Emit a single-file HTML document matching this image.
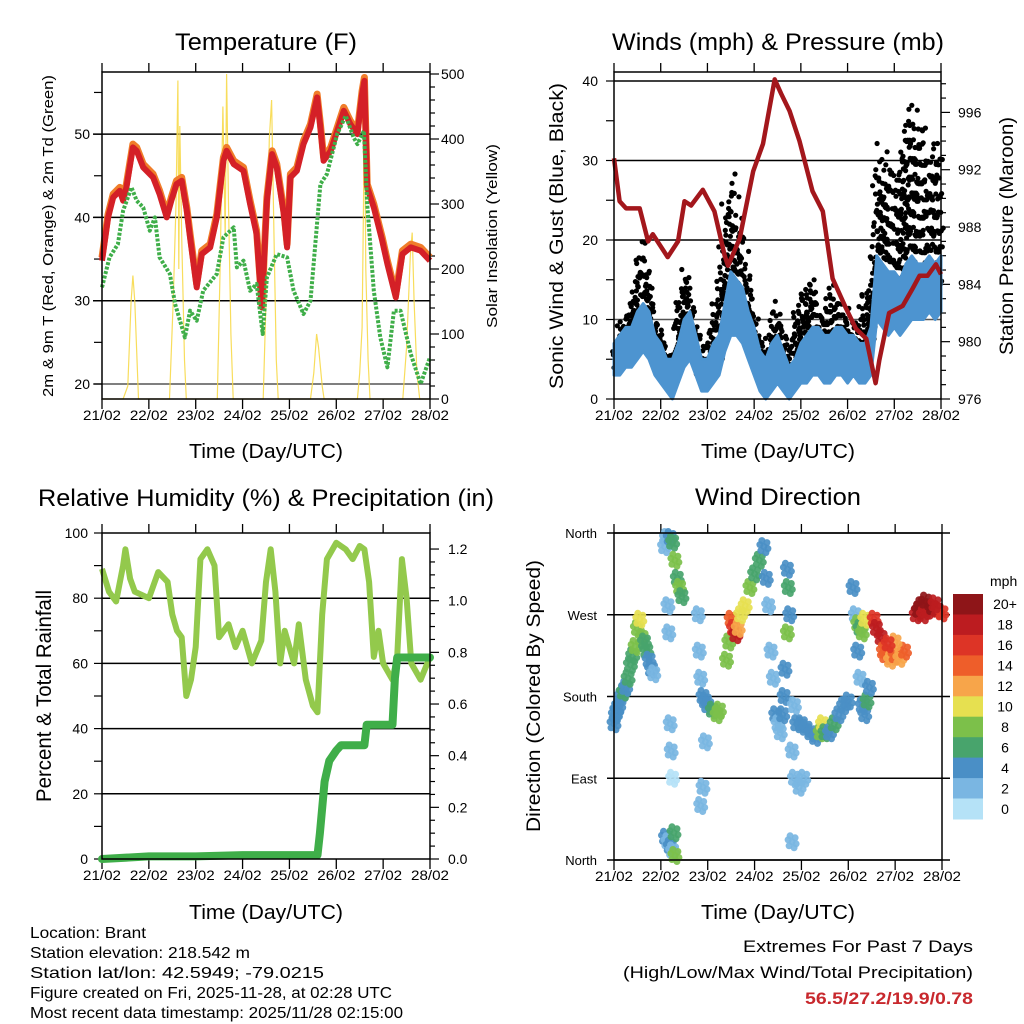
<!DOCTYPE html>
<html><head><meta charset="utf-8"><style>
html,body{margin:0;padding:0;background:#fff;}
svg{display:block;font-family:"Liberation Sans",Arial,sans-serif;}
</style></head><body>
<svg id="fig" width="1024" height="1024" viewBox="0 0 1024 1024" xmlns="http://www.w3.org/2000/svg">
<rect width="1024" height="1024" fill="#fff"/>
<g id="p1"></g>
<g id="p2"></g>
<g id="p3"></g>
<g id="p4"></g>
<g id="txt">
<text x="266" y="50" font-size="24" text-anchor="middle" textLength="182" lengthAdjust="spacingAndGlyphs">Temperature (F)</text>
<text x="778" y="50" font-size="24" text-anchor="middle" textLength="332" lengthAdjust="spacingAndGlyphs">Winds (mph) &amp; Pressure (mb)</text>
<text x="266" y="506" font-size="24" text-anchor="middle" textLength="456" lengthAdjust="spacingAndGlyphs">Relative Humidity (%) &amp; Precipitation (in)</text>
<text x="778" y="505" font-size="24" text-anchor="middle" textLength="166" lengthAdjust="spacingAndGlyphs">Wind Direction</text>
<text x="266" y="458" font-size="20" text-anchor="middle" textLength="154" lengthAdjust="spacingAndGlyphs">Time (Day/UTC)</text>
<text x="778" y="458" font-size="20" text-anchor="middle" textLength="154" lengthAdjust="spacingAndGlyphs">Time (Day/UTC)</text>
<text x="266" y="919" font-size="20" text-anchor="middle" textLength="154" lengthAdjust="spacingAndGlyphs">Time (Day/UTC)</text>
<text x="778" y="919" font-size="20" text-anchor="middle" textLength="154" lengthAdjust="spacingAndGlyphs">Time (Day/UTC)</text>
<text transform="translate(53,236) rotate(-90)" font-size="15" text-anchor="middle" textLength="322" lengthAdjust="spacingAndGlyphs">2m &amp; 9m T (Red, Orange) &amp; 2m Td (Green)</text>
<text transform="translate(497,236) rotate(-90)" font-size="15" text-anchor="middle" textLength="184" lengthAdjust="spacingAndGlyphs">Solar Insolation (Yellow)</text>
<text transform="translate(563,236) rotate(-90)" font-size="19" text-anchor="middle" textLength="306" lengthAdjust="spacingAndGlyphs">Sonic Wind &amp; Gust (Blue, Black)</text>
<text transform="translate(1013,236) rotate(-90)" font-size="19" text-anchor="middle" textLength="238" lengthAdjust="spacingAndGlyphs">Station Pressure (Maroon)</text>
<text transform="translate(51,696) rotate(-90)" font-size="21" text-anchor="middle" textLength="212" lengthAdjust="spacingAndGlyphs">Percent &amp; Total Rainfall</text>
<text transform="translate(540,696) rotate(-90)" font-size="19" text-anchor="middle" textLength="272" lengthAdjust="spacingAndGlyphs">Direction (Colored By Speed)</text>
<g font-size="16">
<text x="30" y="938" textLength="116" lengthAdjust="spacingAndGlyphs">Location: Brant</text>
<text x="30" y="958" textLength="220" lengthAdjust="spacingAndGlyphs">Station elevation: 218.542 m</text>
<text x="30" y="978" textLength="294" lengthAdjust="spacingAndGlyphs">Station lat/lon: 42.5949; -79.0215</text>
<text x="30" y="998" textLength="362" lengthAdjust="spacingAndGlyphs">Figure created on Fri, 2025-11-28, at 02:28 UTC</text>
<text x="30" y="1018" textLength="373" lengthAdjust="spacingAndGlyphs">Most recent data timestamp: 2025/11/28 02:15:00</text>
</g>
<text x="973" y="952" font-size="17" text-anchor="end" textLength="230" lengthAdjust="spacingAndGlyphs">Extremes For Past 7 Days</text>
<text x="973" y="978" font-size="17" text-anchor="end" textLength="350" lengthAdjust="spacingAndGlyphs">(High/Low/Max Wind/Total Precipitation)</text>
<text x="973" y="1004" font-size="17" font-weight="bold" fill="#c8282d" text-anchor="end" textLength="168" lengthAdjust="spacingAndGlyphs">56.5/27.2/19.9/0.78</text>
</g>
</svg>
<script>
// ===== data =====
const dayLabels=["21/02","22/02","23/02","24/02","25/02","26/02","27/02","28/02"];
const tempT=[0,0.13,0.24,0.38,0.45,0.52,0.66,0.74,0.88,1.09,1.23,1.38,1.48,1.59,1.70,1.81,1.88,2.02,2.13,2.31,2.45,2.59,2.66,2.81,3.02,3.16,3.30,3.41,3.52,3.63,3.73,3.88,3.95,4.02,4.16,4.30,4.45,4.59,4.66,4.73,4.88,5.16,5.30,5.45,5.55,5.60,5.66,5.80,5.98,6.09,6.27,6.41,6.59,6.80,7.0];
const tempV=[34.8,40,42.4,43.2,42,43.6,48.4,48,46,44.8,42.8,40,42,44,44.4,40.8,37.6,31.6,35.6,36.4,40,46.8,48,46.4,45.6,41.6,38,29.2,42,47.6,46,40.4,36.4,44.8,45.6,48.8,50.8,54.4,50.8,46.8,48,52.8,51.2,50,54.8,56.4,43.6,41.2,37.2,34.4,30.4,35.6,36.4,36,34.8];
const dewT=[0,0.16,0.34,0.45,0.63,0.74,0.88,1.02,1.13,1.23,1.45,1.56,1.77,1.88,2.02,2.16,2.45,2.59,2.81,2.88,3.02,3.16,3.30,3.43,3.52,3.73,3.95,4.09,4.30,4.45,4.66,4.80,5.02,5.20,5.37,5.45,5.59,5.66,5.80,5.94,6.09,6.23,6.37,6.59,6.80,7.0];
const dewV=[31.6,35.2,36.8,40.8,43.6,42,41.2,38.4,40,35.2,33.2,29.6,25.6,28.8,27.6,31.2,33.2,37.6,38.8,34,34.8,31.2,32,26,32.8,35.6,35.2,31.2,28.4,30,44,45.2,50,52.2,49.6,48.8,50.4,41.6,31.2,25.6,22,28.8,28.8,23.6,20,23.2];
const solarT=[0,0.45,0.55,0.62,0.66,0.70,0.78,1.44,1.52,1.58,1.62,1.64,1.66,1.70,1.76,1.80,2.46,2.52,2.58,2.63,2.66,2.70,2.75,2.80,3.44,3.50,3.57,3.62,3.67,3.72,3.76,4.45,4.52,4.58,4.62,4.70,4.74,5.45,5.50,5.55,5.58,5.60,5.63,5.68,5.72,6.42,6.50,6.58,6.62,6.66,6.72,6.78,7.0];
const solarV=[0,0,20,150,190,150,0,0,150,300,490,200,420,250,60,0,0,200,450,250,500,300,100,0,0,150,400,460,250,60,0,0,40,100,80,20,0,0,40,110,300,470,200,60,0,0,80,220,256,150,40,0,0];
const presT=[0,0.12,0.26,0.55,0.73,0.83,1.15,1.37,1.51,1.65,1.90,2.15,2.37,2.44,2.69,2.98,3.19,3.44,3.58,3.76,3.97,4.25,4.47,4.68,4.97,5.18,5.40,5.60,5.68,5.89,6.18,6.39,6.54,6.71,6.89,7.0];
const presV=[992.8,989.8,989.3,989.3,987,987.5,985.9,987,989.8,989.5,990.6,989.1,986,985.3,987.2,991.9,993.8,998.3,997.3,996.1,994,990.5,989.1,984.4,982.3,980.9,980.2,977.1,978.7,982,982.5,983.7,984.6,984.6,985.4,984.7];
const windLo=[3,3,4,4,5,6,5,3,2,1,0,2,4,5,3,1,1,2,3,6,8,8,7,5,3,1,0,1,2,1,0,1,2,2,3,3,2,2,3,3,2,3,2,2,3,10,9,8,9,8,9,10,10,10,11,10,11];
const windHi=[7,8,9,9,11,12,11,8,7,5,5,7,10,11,8,5,5,7,8,12,16,15,14,11,9,6,5,7,8,6,4,5,7,8,9,9,8,8,9,9,8,8,7,7,9,18,17,16,16,15,17,18,17,17,18,17,18];
const gustHi=[6,10,12,13,17,22,18,12,9,7,6,12,17,16,10,6,8,11,15,25,29,25,22,16,12,8,7,10,13,9,6,11,14,15,16,13,11,15,14,12,11,10,12,14,15,33,33,30,28,32,37,38,36,35,34,32,34];
const rhT=[0,0.15,0.3,0.45,0.5,0.6,0.7,1.0,1.2,1.4,1.5,1.6,1.7,1.8,1.9,2.0,2.1,2.25,2.4,2.5,2.7,2.85,3.0,3.2,3.4,3.5,3.6,3.7,3.8,3.9,4.1,4.2,4.35,4.5,4.6,4.7,4.8,5.0,5.2,5.35,5.5,5.6,5.7,5.8,5.9,6.0,6.2,6.3,6.4,6.5,6.6,6.8,7.0];
const rhV=[89,82,79,90,95,86,82,80,88,85,75,70,68,50,55,65,92,95,90,68,72,65,70,60,67,85,95,82,60,70,60,72,55,47,45,75,92,97,95,92,96,95,85,62,70,60,55,62,92,80,60,55,62];
const prT=[0,1,2,3,4,4.6,4.65,4.75,4.85,5.0,5.1,5.6,5.65,6.2,6.25,6.3,7];
const prV=[0,0.01,0.01,0.015,0.015,0.015,0.1,0.3,0.38,0.42,0.44,0.44,0.52,0.52,0.7,0.78,0.78];
const dirT=[0,0.03,0.06,0.1,0.15,0.2,0.25,0.3,0.35,0.4,0.45,0.5,0.55,0.6,0.65,0.7,0.75,0.8,0.85,1.08,1.12,1.2,1.25,1.3,1.35,1.4,1.45,1.15,1.17,1.2,1.22,1.25,1.1,1.15,1.2,1.25,1.3,1.28,1.8,1.82,1.85,1.9,1.95,2.0,2.1,2.2,2.25,1.95,1.9,1.85,2.4,2.45,2.5,2.55,2.6,2.65,2.7,2.8,2.9,3.0,3.1,3.2,3.25,3.3,3.35,3.4,3.45,3.5,3.55,3.7,3.72,3.75,3.7,3.65,3.63,3.6,3.8,3.85,3.9,4.0,4.1,4.2,4.3,4.4,4.45,4.5,4.6,4.7,4.8,4.9,5.0,3.85,3.95,4.05,3.8,5.1,5.15,5.2,5.25,5.3,5.35,5.4,5.45,5.2,5.25,5.3,5.35,5.55,5.6,5.7,5.75,5.8,5.9,6.0,6.1,6.2,6.0,5.85,6.45,6.5,6.55,6.6,6.7,6.8,6.9,7.0,6.65,6.85];
const dirV=[150,160,165,170,180,185,190,200,215,225,235,255,265,245,240,230,220,210,205,345,355,355,350,330,310,300,290,280,250,150,120,90,25,20,15,10,5,30,270,230,200,180,175,170,165,160,165,130,80,60,220,240,265,255,248,255,270,280,300,315,330,345,310,280,230,200,160,150,140,320,300,270,250,210,180,160,120,170,150,150,145,140,135,140,150,140,140,150,160,170,175,90,80,90,20,300,270,230,200,170,160,175,190,260,255,250,265,265,255,245,230,225,220,225,222,230,240,238,270,275,280,270,275,278,275,272,285,282];
const dirS=[3,3,4,4,4,5,4,6,6,5,7,8,10,7,6,5,4,3,2,2,2,3,6,7,6,8,6,1,1,1,1,0,3,2,3,2,7,6,1,1,2,3,4,4,5,7,8,1,1,1,8,7,14,16,18,12,10,10,8,6,5,4,4,2,2,2,3,2,1,4,6,4,8,4,4,4,1,1,3,4,3,3,4,8,9,5,4,6,4,3,3,1,1,1,1,4,2,3,1,3,4,5,4,8,6,7,10,16,18,18,14,14,12,14,12,14,12,16,18,20,20,18,18,20,18,16,20,18];
const cbLabels=["20+","18","16","14","12","10","8","6","4","2","0"];
const cbColors=["#8e1518","#bc1c20","#dd3426","#ee5e2a","#f7a54a","#e6e050","#7cc04a","#48a46c","#4a8fc6","#7ab6e2","#b5e2f7"];

// ===== helpers =====
const NS="http://www.w3.org/2000/svg";
function mk(parent,tag,attrs,text){const e=document.createElementNS(NS,tag);for(const k in attrs)e.setAttribute(k,attrs[k]);if(text!==undefined)e.textContent=text;parent.appendChild(e);return e;}
function pathD(ts,vs,fx,fy){return ts.map((t,i)=>(i?"L":"M")+fx(t).toFixed(1)+","+fy(vs[i]).toFixed(1)).join("");}
function xAxis(g,x0,x1,yb,yt){
  const fx=d=>x0+d/7*(x1-x0);
  dayLabels.forEach((lab,i)=>{
    const x=fx(i);
    let l=mk(g,"line",{x1:x,x2:x,y1:yb,y2:yb+10,stroke:"#000","stroke-width":1.3});
    
    
    l=mk(g,"line",{x1:x,x2:x,y1:yt,y2:yt-9,stroke:"#000","stroke-width":1.3});
    
    
    const t=mk(g,"text",{x:x,y:yb+21,"font-size":14,"text-anchor":"middle",textLength:38,lengthAdjust:"spacingAndGlyphs"},lab);
    
    
  });
  return fx;
}
function grid(g,xa,xb,y,w,c){const l=mk(g,"line",{x1:xa,x2:xb,y1:y,y2:y,stroke:c||"#000","stroke-width":w||1.3});
  
  }
function tick(g,x,y,len,horiz){const l=mk(g,"line",horiz?{x1:x,x2:x+len,y1:y,y2:y}:{x1:x,x2:x,y1:y,y2:y+len},{});
  l.setAttribute("stroke","#000");l.setAttribute("stroke-width","1.2");
  
  }
function label(g,x,y,s,anchor,size){const t=mk(g,"text",{x:x,y:y,"font-size":size||14,"text-anchor":anchor||"end"},s);
  
  }
function frame(g,x0,y0,x1,y1){const r=mk(g,"rect",{x:x0,y:y0,width:x1-x0,height:y1-y0,fill:"none",stroke:"#000","stroke-width":1.5});
  
  }

// ===== Panel 1: Temperature =====
(function(){
  const g=document.getElementById("p1");
  const X0=102,X1=430,YT=72,YB=399;
  const yT=v=>384-(v-20)*8.33, yS=v=>399-v*0.65;
  const fx=xAxis(g,X0,X1,YB,YT);
  [20,30,40,50].forEach(v=>{grid(g,93,X1,yT(v),1.5,v==20?"#555":"#000");label(g,90,yT(v)+5,String(v));});
  for(let v=20;v<=55;v+=5)tick(g,X0,yT(v),-8,true);
  for(let v=0;v<=500;v+=20)tick(g,X1,yS(v),v%100==0?9:5,true);
  for(let v=0;v<=500;v+=100)label(g,441,yS(v)+5,String(v),"start");
  let p=mk(g,"path",{d:pathD(solarT,solarV,fx,yS),fill:"none",stroke:"#f7d94a","stroke-width":1.2,opacity:0.9});
  
  
  p=mk(g,"path",{d:pathD(tempT,tempV.map(v=>v+0.4),fx,yT),fill:"none",stroke:"#f07d2a","stroke-width":7,"stroke-linejoin":"round"});
  
  
  p=mk(g,"path",{d:pathD(tempT,tempV,fx,yT),fill:"none",stroke:"#d42027","stroke-width":6,"stroke-linejoin":"round"});
  
  
  p=mk(g,"path",{d:pathD(dewT,dewV,fx,yT),fill:"none",stroke:"#3fae49","stroke-width":4,"stroke-dasharray":"3 1.6","stroke-linejoin":"round"});
  
  
  frame(g,X0,YT,X1,YB);
})();

// ===== Panel 2: Winds & Pressure =====
(function(){
  const g=document.getElementById("p2");
  const X0=614,X1=941,YT=72,YB=399;
  const yW=v=>399-v*7.95, yP=p=>399-(p-976)*14.33;
  const fx=xAxis(g,X0,X1,YB,YT);
  [10,20,30,40].forEach(v=>grid(g,X0,X1,yW(v),1.5,v==10?"#555":"#000"));
  for(let v=0;v<=40;v+=5)tick(g,X0,yW(v),-8,true);
  for(let v=0;v<=40;v+=10)label(g,598,yW(v)+5,String(v));
  for(let p=976;p<=998;p+=1)tick(g,X1,yP(p),p%4==0?9:5,true);
  for(let p=976;p<=996;p+=4)label(g,958,yP(p)+5,String(p),"start");
  const step=7/(windHi.length-1);
  const sub=6;
  let k=0;
  for(let i=0;i<windHi.length-1;i++){
    for(let s=0;s<sub;s++){
      const f=s/sub;
      const t=(i+f)*step;
      const lo=Math.max(0,windHi[i]+(windHi[i+1]-windHi[i])*f-3);
      const hi=gustHi[i]+(gustHi[i+1]-gustHi[i])*f;
      const top=hi*(0.82+0.06*((i*5+s*3)%4));
      const dv=hi>20?2.2:1.5;
      for(let v=lo;v<=top;v+=dv){
        k++;
        const jx=((k*7)%5-2)*1.6, jy=((k*3)%5-2)*0.5;
        const c=mk(g,"circle",{cx:(fx(t)+jx).toFixed(1),cy:(yW(v)+jy).toFixed(1),r:2.6,fill:"#000"});
        
        
      }
    }
  }
  const ts=windHi.map((_,i)=>i*step);
  let d="M"+ts.map((t,i)=>fx(t).toFixed(1)+","+yW(windHi[i]).toFixed(1)).join("L");
  d+="L"+ts.slice().reverse().map((t,j)=>{const i=ts.length-1-j;return fx(t).toFixed(1)+","+yW(windLo[i]).toFixed(1);}).join("L")+"Z";
  let p=mk(g,"path",{d:d,fill:"#4d94d0",stroke:"#4d94d0","stroke-width":3,"stroke-linejoin":"round"});
  
  
  p=mk(g,"path",{d:pathD(presT,presV,fx,yP),fill:"none",stroke:"#a3171c","stroke-width":4.5,"stroke-linejoin":"round"});
  
  
  frame(g,X0,YT,X1,YB);
})();

// ===== Panel 3: RH & Precip =====
(function(){
  const g=document.getElementById("p3");
  const X0=102,X1=430,YT=533,YB=859;
  const yR=v=>859-v*3.26, yPr=v=>859-v*258.3;
  const fx=xAxis(g,X0,X1,YB,YT);
  [20,40,60,80].forEach(v=>grid(g,X0,X1,yR(v),1.5,"#000"));
  for(let v=0;v<=100;v+=10)tick(g,X0,yR(v),-8,true);
  for(let v=0;v<=100;v+=20)label(g,88,yR(v)+5,String(v));
  for(let v=0;v<=1.25;v+=0.05)tick(g,X1,yPr(v),Math.round(v*20)%4==0?9:5,true);
  for(let k=0;k<=6;k++)label(g,448,yPr(k*0.2)+5,(k*0.2).toFixed(1),"start");
  let p=mk(g,"path",{d:pathD(rhT,rhV,fx,yR),fill:"none",stroke:"#93c94c","stroke-width":6,"stroke-linejoin":"round"});
  
  
  p=mk(g,"path",{d:pathD(prT,prV,fx,yPr),fill:"none",stroke:"#3fae49","stroke-width":8,"stroke-linejoin":"round","stroke-linecap":"round"});
  
  
  frame(g,X0,YT,X1,YB);
})();

// ===== Panel 4: Wind direction =====
(function(){
  const g=document.getElementById("p4");
  const X0=614,X1=942,YT=533,YB=860;
  const yD=d=>860-d*327/360;
  const fx=xAxis(g,X0,X1,YB,YT);
  const names=["North","East","South","West","North"];
  [0,90,180,270,360].forEach((d,i)=>{grid(g,607,950,yD(d),1.4,"#000");label(g,597,yD(d)+5,names[i],"end",13);});
  const col=s=>cbColors[10-Math.max(0,Math.min(10,Math.round(s/2)))];
  const offs=[[0,0],[3,-4],[-3,4],[2,6],[-2,-6],[4,2],[-4,-2]];
  dirT.forEach((t,i)=>{
    offs.forEach(o=>{
      const c=mk(g,"circle",{cx:(fx(t)+o[0]).toFixed(1),cy:(yD(dirV[i])+o[1]).toFixed(1),r:3.5,fill:col(dirS[i]),opacity:0.92});
      
      
    });
  });
  frame(g,X0,YT,X1,YB);
  const cb=mk(g,"g",{});
  
  
  const bh=225/11;
  cbColors.forEach((c,i)=>{
    const r=mk(cb,"rect",{x:953,y:(594+i*bh).toFixed(1),width:30,height:(bh+0.5).toFixed(1),fill:c});
    
    
    const t=mk(cb,"text",{x:1005,y:(594+i*bh+bh/2+5).toFixed(1),"font-size":14,"text-anchor":"middle"},cbLabels[i]);
    
    
  });
  const u=mk(cb,"text",{x:990,y:586,"font-size":14},"mph");
  
  
})();
</script>
</body></html>
